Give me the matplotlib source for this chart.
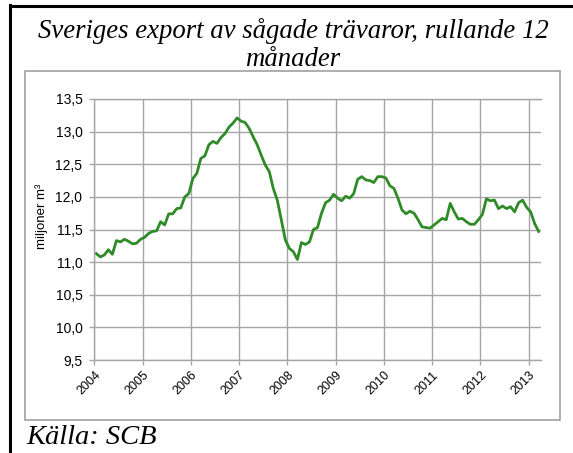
import numpy as np
from matplotlib import pyplot as plt
from matplotlib.lines import Line2D
from matplotlib.patches import Rectangle

# monthly values, jan 2004 - mar 2013 (miljoner m3, rullande 12 man)
values_2004_2005 = [11.13, 11.08, 11.11, 11.19, 11.12, 11.33, 11.31, 11.35, 11.32, 11.28, 11.29, 11.35,
                    11.38, 11.44, 11.47, 11.48, 11.62, 11.57, 11.74, 11.74, 11.82, 11.83, 12.00, 12.05]
values_2006_2007 = [12.28, 12.36, 12.59, 12.63, 12.80, 12.85, 12.82, 12.91, 12.97, 13.07, 13.13, 13.21,
                    13.16, 13.14, 13.05, 12.92, 12.80, 12.64, 12.49, 12.39, 12.13, 11.95, 11.65, 11.34]
values_2008_2009 = [11.21, 11.16, 11.04, 11.30, 11.27, 11.31, 11.50, 11.53, 11.75, 11.91, 11.95, 12.04,
                    11.98, 11.94, 12.01, 11.98, 12.05, 12.27, 12.31, 12.26, 12.25, 12.22, 12.31, 12.31]
values_2010_2011 = [12.29, 12.17, 12.13, 11.98, 11.80, 11.74, 11.78, 11.75, 11.65, 11.54, 11.53, 11.52,
                    11.57, 11.62, 11.67, 11.65, 11.90, 11.77, 11.66, 11.67, 11.62, 11.58, 11.58, 11.65]
values_2012_2013 = [11.73, 11.97, 11.94, 11.95, 11.82, 11.86, 11.82, 11.85, 11.77, 11.91, 11.95, 11.84,
                    11.77, 11.59, 11.47]
years = list(range(2004, 2014))
yticks = [9.5, 10.0, 10.5, 11.0, 11.5, 12.0, 12.5, 13.0, 13.5]

title_lines = ['Sveriges export av sågade trävaror, rullande 12', 'månader']
source = 'Källa: SCB'
ylabel = 'miljoner m³'


def comma_fmt(value, pos):
    return f"{value:.1f}".replace('.', ',')


def plot_export(values):
    n = len(values)
    # category axis: points sit in the middle of each month
    x = 2004 + (np.arange(n) + 0.5) / 12
    grid_color = '#a6a6a6'

    fig = plt.figure(figsize=(5.73, 4.53), dpi=100)
    W, H = 573, 453

    # frame around the whole thing
    fig.add_artist(Rectangle((25 / W, 1 - 420 / H), 535 / W, 349 / H, transform=fig.transFigure,
                             fill=False, edgecolor='#a0a0a0', linewidth=1.2))
    fig.add_artist(Line2D([10 / W, 10 / W], [0, 1 - 5 / H], transform=fig.transFigure,
                          color='black', linewidth=2.2))
    fig.add_artist(Line2D([10 / W, 1], [1 - 6 / H, 1 - 6 / H], transform=fig.transFigure,
                          color='black', linewidth=2.2))

    fig.text(293 / W, 1 - 31 / H, title_lines[0], ha='center', va='center', fontsize=19.3,
             family='Liberation Serif', style='italic')
    fig.text(293 / W, 1 - 59 / H, title_lines[1], ha='center', va='center', fontsize=19.3,
             family='Liberation Serif', style='italic')
    fig.text(26 / W, 1 - 437 / H, source, ha='left', va='center', fontsize=20.5,
             family='Liberation Serif', style='italic')

    ax = fig.add_axes([94.3 / W, 1 - 360 / H, 446.4 / W, 261 / H])
    ax.plot(x, values, color='#2f8a28', linewidth=2.0, solid_joinstyle='round')

    ax.set_xlim(2004, 2004 + n / 12)
    ax.set_ylim(9.5, 13.5)
    ax.set_xticks(years)
    ax.set_xticklabels([str(y) for y in years], rotation=45, ha='right', va='top',
                       rotation_mode='anchor')
    ax.set_yticks(yticks)
    ax.yaxis.set_major_formatter(plt.FuncFormatter(comma_fmt))
    ax.grid(True, color=grid_color, linewidth=1.0)
    ax.set_axisbelow(True)

    ax.spines['right'].set_visible(False)
    for side in ['left', 'bottom', 'top']:
        ax.spines[side].set_color(grid_color)
        ax.spines[side].set_linewidth(1.0)
    ax.tick_params(axis='both', direction='out', length=3.5, color=grid_color, width=1.0,
                   labelcolor='black')
    ax.tick_params(axis='y', pad=5, labelsize=10)
    ax.tick_params(axis='x', pad=3, labelsize=9)
    for lbl in ax.get_xticklabels() + ax.get_yticklabels():
        lbl.set_family('Liberation Sans')

    ax.set_ylabel(ylabel, fontsize=9.5, family='Liberation Sans')
    ax.yaxis.set_label_coords(-0.104, 0.55)

    fig.savefig('out.png', dpi=100)


if __name__ == '__main__':
    values = values_2004_2005 + values_2006_2007 + values_2008_2009 + values_2010_2011 + values_2012_2013
    plot_export(values)
